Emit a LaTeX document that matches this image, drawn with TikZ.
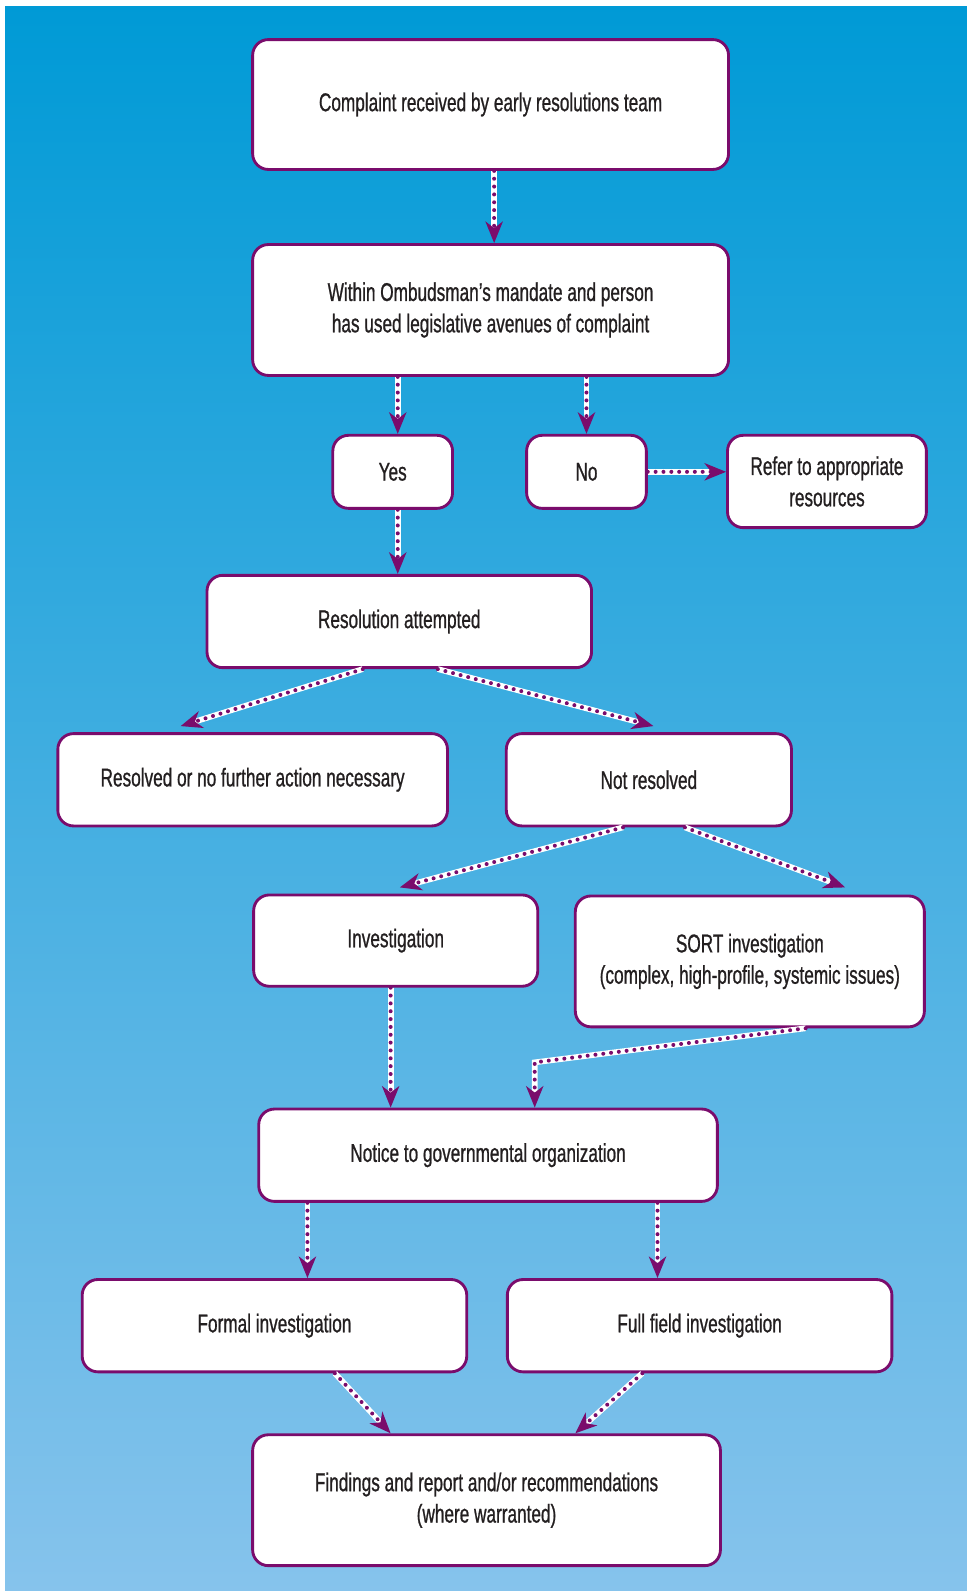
\documentclass[tikz,border=0pt]{standalone}
\usepackage{fontspec}
\setmainfont{Liberation Sans}[FakeStretch=0.67, FakeBold=0.8]
\usetikzlibrary{arrows.meta,calc}
\definecolor{plum}{HTML}{7A0C6C}
\definecolor{skytop}{HTML}{009AD6}
\definecolor{skybottom}{HTML}{86C3EC}
\definecolor{ink}{HTML}{231F20}
\tikzset{
    box/.style={draw=plum, line width=2pt, fill=white, rounded corners=11pt,
        align=center, text=ink, inner sep=0pt, font=\fontsize{18}{22}\selectfont},
    link/.style={plum, line width=2.8pt, line cap=round, dash pattern=on 0pt off 5.5pt,
        preaction={draw=white, line width=4pt, solid, line cap=butt, -, shorten >=9.5pt},
        -{Stealth[length=15pt, width=12pt, inset=4.5pt]}}
}
\begin{document}
\begin{tikzpicture}[x=0.25mm, y=-0.25mm]
    \useasboundingbox (0,0) rectangle (953,1568);
    % background
    \shade [top color=skytop, bottom color=skybottom] (5,6) rectangle (953,1568);

    % steps
    \node [box, minimum width=117.25mm, minimum height=32mm] (complaint) at (483.5,103)
        {Complaint received by early resolutions team};
    \node [box, minimum width=117.25mm, minimum height=32.25mm] (mandate) at (483.5,305.5)
        {Within Ombudsman’s mandate and person\\has used legislative avenues of complaint};
    \node [box, minimum width=29.5mm, minimum height=18mm] (yes) at (387,465) {Yes};
    \node [box, minimum width=29.5mm, minimum height=18mm] (no) at (578,465) {No};
    \node [box, minimum width=49mm, minimum height=22.75mm] (refer) at (815,474.5)
        {Refer to appropriate\\resources};
    \node [box, minimum width=94.75mm, minimum height=22.75mm] (attempt) at (393.5,612.5)
        {Resolution attempted};
    \node [box, minimum width=96mm, minimum height=22.75mm] (resolved) at (249,768.5)
        {Resolved or no further action necessary};
    \node [box, minimum width=70.25mm, minimum height=22.75mm] (open) at (639.5,768.5)
        {Not resolved};
    \node [box, minimum width=70mm, minimum height=22.5mm] (invest) at (390,927)
        {Investigation};
    \node [box, minimum width=86mm, minimum height=32.25mm] (sort) at (739,947.5)
        {SORT investigation\\(complex, high-profile, systemic issues)};
    \node [box, minimum width=113mm, minimum height=22.75mm] (notice) at (481,1138.5)
        {Notice to governmental organization};
    \node [box, minimum width=94.75mm, minimum height=22.75mm] (formal) at (270.5,1306.5)
        {Formal investigation};
    \node [box, minimum width=94.75mm, minimum height=22.75mm] (field) at (689.5,1306.5)
        {Full field investigation};
    \node [box, minimum width=115.25mm, minimum height=32.25mm] (findings) at (479.5,1478.5)
        {Findings and report and/or recommendations\\(where warranted)};

    % intake
    \draw [link] ($(complaint.south)+(3.5,0)$) -- ($(mandate.north)+(3.5,0)$);
    \draw [link] ($(mandate.south)+(-91.5,0)$) -- ($(yes.north)+(5,0)$);
    \draw [link] ($(mandate.south)+(94.5,0)$) -- (no.north);
    \draw [link] (no.east) -- ($(refer.west)+(0,-9.5)$);
    \draw [link] ($(yes.south)+(5,0)$) -- ($(attempt.north)+(-1.5,0)$);

    % resolution
    \draw [link] ($(attempt.south)+(-36,0)$) -- ($(resolved.north)+(-71,-6)$);
    \draw [link] ($(attempt.south)+(38,0)$) -- ($(open.north)+(4.5,-6)$);
    \draw [link] ($(open.south)+(-25.5,0)$) -- ($(invest.north)+(4,-6)$);
    \draw [link] ($(open.south)+(35.5,0)$) -- ($(sort.north)+(94,-7)$);

    % investigations
    \coordinate (bend) at (527,1047);
    \draw [link] ($(invest.south)+(-5,0)$) -- ($(notice.north)+(-96,0)$);
    \draw [link] ($(sort.south)+(55,0)$) -- (bend) -- ($(notice.north)+(46,0)$);
    \draw [link] ($(notice.south)+(-178,0)$) -- ($(formal.north)+(32.5,0)$);
    \draw [link] ($(notice.south)+(167,0)$) -- ($(field.north)+(-41.5,0)$);
    \draw [link] ($(formal.south)+(59.5,0)$) -- ($(findings.north)+(-94.5,0)$);
    \draw [link] ($(field.south)+(-56.5,0)$) -- ($(findings.north)+(87.5,0)$);
\end{tikzpicture}
\end{document}
